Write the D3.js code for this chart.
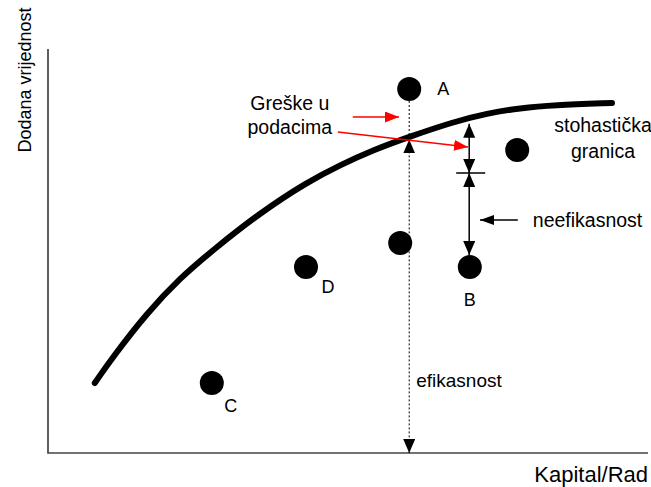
<!DOCTYPE html>
<html>
<head>
<meta charset="utf-8">
<script src="https://cdn.jsdelivr.net/npm/d3@7"></script>
<style>
body{margin:0;background:#fff;}
text{font-family:"Liberation Sans",Arial,sans-serif;fill:#000;}
</style>
</head>
<body>
<svg id="chart"></svg>
<script>
// stochastic frontier (arbitrary units 0..100)
const frontierX = [7.8, 10.8, 16.5, 22, 27.5, 35.3, 43.2, 48.7, 54.2, 60.3, 67.5, 73.2, 78.7, 84.2, 94];
const frontierY = [17.5, 24, 35, 43.75, 50.75, 60, 67.75, 72, 75.75, 79.1, 82.75, 84.9, 86.25, 87, 87.5];

// firms
const firmNames = ["A", "", "B", "", "D", "C"];
const firmX = [60.2, 58.7, 70.3, 78.2, 43, 27.3];
const firmY = [91, 52.5, 46.5, 75.75, 46.5, 17.5];

// annotation values
const effX = 60.2, effFrontier = 78.4, effTop = 91;
const ineffX = 70.2, noiseTop = 82.3, noiseBottom = 70, ineffBottom = 49.5;
const redArrows = [[50.8, 84, 58.5, 84], [48.3, 80.25, 70, 76.5]];
const pointerArrow = [78.3, 58.25, 72, 58.25];

const axisTitles = {x: "Kapital/Rad", y: "Dodana vrijednost"};
const noteErrors = ["Greške u", "podacima"];
const noteFrontier = ["stohastička", "granica"];
const noteIneff = "neefikasnost";
const noteEff = "efikasnost";

const W = 651, H = 487;
const svg = d3.select("#chart").attr("width", W).attr("height", H);

const x = d3.scaleLinear().domain([0, 100]).range([48, 648]);
const y = d3.scaleLinear().domain([0, 100]).range([453, 53]);

// arrowhead markers
const defs = svg.append("defs");
function marker(id, len, wid, color){
    defs.append("marker")
        .attr("id", id)
        .attr("markerUnits", "userSpaceOnUse")
        .attr("viewBox", `0 0 ${len} ${wid}`)
        .attr("markerWidth", len).attr("markerHeight", wid)
        .attr("refX", len).attr("refY", wid / 2)
        .attr("orient", "auto-start-reverse")
        .append("path")
        .attr("d", `M0,0L${len},${wid / 2}L0,${wid}Z`)
        .attr("fill", color);
}
marker("blk", 14, 12, "#000");
marker("sml", 14, 10, "#000");
marker("red", 14, 11, "#f00");

// axes (no ticks)
svg.append("path")
    .attr("d", `M${x(0)},${y(101)}V${y(0)}H${x(100)}`)
    .attr("fill", "none").attr("stroke", "#444").attr("stroke-width", 1.7);

svg.append("text")
    .attr("transform", "translate(31,80) rotate(-90)")
    .attr("text-anchor", "middle")
    .style("font-size", "18px")
    .text(axisTitles.y);

svg.append("text")
    .attr("x", 648).attr("y", 482)
    .attr("text-anchor", "end")
    .style("font-size", "22px")
    .text(axisTitles.x);

// efficiency: dotted line from the axis to the frontier, then on to A
const dotted = svg.append("g").attr("stroke", "#000").attr("stroke-width", 1).attr("stroke-dasharray", "2,2").attr("fill", "none");
dotted.append("line")
    .attr("x1", x(effX)).attr("x2", x(effX))
    .attr("y1", y(effFrontier)).attr("y2", y(0))
    .attr("marker-start", "url(#blk)")
    .attr("marker-end", "url(#blk)");
dotted.append("line")
    .attr("x1", x(effX)).attr("x2", x(effX))
    .attr("y1", y(effTop)).attr("y2", y(effFrontier));

svg.append("text")
    .attr("x", x(effX) + 7).attr("y", y(18.25))
    .attr("dy", "0.35em")
    .style("font-size", "19px")
    .text(noteEff);

// frontier
const line = d3.line()
    .x(d => x(d[0]))
    .y(d => y(d[1]))
    .curve(d3.curveBasis);
svg.append("path")
    .datum(d3.zip(frontierX, frontierY))
    .attr("d", line)
    .attr("fill", "none")
    .attr("stroke", "#000")
    .attr("stroke-width", 6)
    .attr("stroke-linecap", "round");

// noise and inefficiency arrows
const ineff = svg.append("g").attr("stroke", "#000").attr("stroke-width", 1.5);
ineff.append("line")
    .attr("x1", x(ineffX)).attr("x2", x(ineffX))
    .attr("y1", y(noiseTop)).attr("y2", y(noiseBottom))
    .attr("marker-start", "url(#blk)").attr("marker-end", "url(#blk)");
ineff.append("line")
    .attr("x1", x(ineffX)).attr("x2", x(ineffX))
    .attr("y1", y(noiseBottom)).attr("y2", y(ineffBottom))
    .attr("marker-start", "url(#blk)").attr("marker-end", "url(#blk)");
ineff.append("line")
    .attr("x1", x(ineffX) - 13).attr("x2", x(ineffX) + 16)
    .attr("y1", y(noiseBottom)).attr("y2", y(noiseBottom));
ineff.append("line")
    .attr("x1", x(pointerArrow[0])).attr("y1", y(pointerArrow[1]))
    .attr("x2", x(pointerArrow[2])).attr("y2", y(pointerArrow[3]))
    .attr("marker-end", "url(#sml)");

svg.append("text")
    .attr("x", x(pointerArrow[0]) + 15).attr("y", y(pointerArrow[1]))
    .attr("dy", "0.35em")
    .style("font-size", "19.5px")
    .text(noteIneff);

// red arrows for data errors
svg.append("g").selectAll("line")
    .data(redArrows)
    .join("line")
    .attr("x1", d => x(d[0])).attr("y1", d => y(d[1]))
    .attr("x2", d => x(d[2])).attr("y2", d => y(d[3]))
    .attr("stroke", "#f00").attr("stroke-width", 1.3)
    .attr("marker-end", "url(#red)");

svg.append("text")
    .attr("text-anchor", "middle")
    .style("font-size", "19.5px")
    .selectAll("tspan")
    .data(noteErrors)
    .join("tspan")
    .attr("x", x(40.3))
    .attr("y", (d, i) => y(87.5) + 7 + i * 23.5)
    .text(d => d);

svg.append("text")
    .attr("text-anchor", "middle")
    .style("font-size", "19.5px")
    .selectAll("tspan")
    .data(noteFrontier)
    .join("tspan")
    .attr("x", x(92.5))
    .attr("y", (d, i) => y(82) + 7 + i * 26)
    .text(d => d);

// firms
const firms = d3.zip(firmNames, firmX, firmY);
svg.append("g").selectAll("circle")
    .data(firms)
    .join("circle")
    .attr("cx", d => x(d[1]))
    .attr("cy", d => y(d[2]))
    .attr("r", 12)
    .attr("fill", "#000");

const labelOffset = {A: [34, 0], B: [0, 33], C: [19, 23], D: [22, 20]};
svg.append("g").selectAll("text")
    .data(firms.filter(d => d[0]))
    .join("text")
    .attr("x", d => x(d[1]) + labelOffset[d[0]][0])
    .attr("y", d => y(d[2]) + labelOffset[d[0]][1])
    .attr("dy", "0.35em")
    .attr("text-anchor", "middle")
    .style("font-size", "18px")
    .text(d => d[0]);
</script>
</body>
</html>
